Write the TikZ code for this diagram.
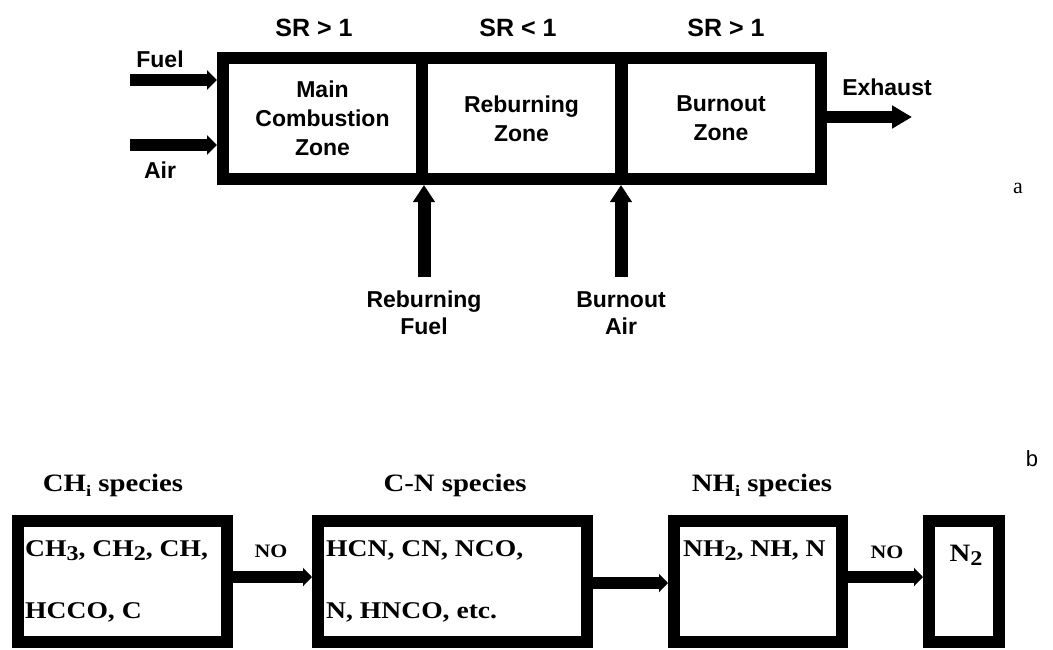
\documentclass[tikz,border=0pt]{standalone}
\usepackage{fontspec}
\setmainfont{Liberation Serif}
\newfontfamily\topfont{Liberation Sans}
\newfontfamily\botfont[FakeStretch=1.15]{Liberation Serif}
\usetikzlibrary{arrows.meta}
\newcommand\lsub[1]{\raisebox{-0.4ex}{\fontsize{21}{21}\selectfont #1}}
\newcommand\ssub[1]{\raisebox{-0.45ex}{\fontsize{16}{16}\selectfont #1}}
\begin{document}
\begin{tikzpicture}[x=1pt,y=-1pt,
  zone/.style={draw, line width=12pt, minimum width=199pt, minimum height=121pt, inner sep=0pt, align=center,
    font=\topfont\bfseries\fontsize{23}{29}\selectfont},
  toplbl/.style={inner sep=0pt, anchor=base, align=center, font=\topfont\bfseries\fontsize{23}{27}\selectfont},
  srlbl/.style={inner sep=0pt, anchor=base, font=\topfont\bfseries\fontsize{25}{27}\selectfont},
  specbox/.style={draw, line width=12pt, minimum height=121pt, inner sep=0pt},
  bottxt/.style={inner sep=0pt, anchor=base west, font=\botfont\bfseries\fontsize{24}{27}\selectfont},
  botlbl/.style={inner sep=0pt, anchor=base, font=\botfont\bfseries\fontsize{25}{27}\selectfont},
  nolbl/.style={inner sep=0pt, anchor=base, font=\botfont\bfseries\fontsize{19}{20}\selectfont},
  inarrow/.style={line width=12pt, -{Triangle[length=10pt,width=19pt]}},
  uparrow/.style={line width=13pt, -{Triangle[length=17pt,width=21pt]}},
  outarrow/.style={line width=12pt, -{Triangle[length=20pt,width=22pt]}},
  flowarrow/.style={line width=12pt, -{Triangle[length=9pt,width=18pt]}}
]
\useasboundingbox (0,0) rectangle (1053,649);

% ---- part a ----
\node[zone] (z1) at (322.5,118.5) {Main\\Combustion\\Zone};
\node[zone] (z2) at (521.5,118.5) {Reburning\\Zone};
\node[zone] (z3) at (721,118.5) {Burnout\\Zone};

\node[srlbl] (sr1) at (314,36) {SR > 1};
\node[srlbl] (sr2) at (518,36) {SR < 1};
\node[srlbl] (sr3) at (726,36) {SR > 1};

\node[toplbl] (fuel) at (160,67) {Fuel};
\node[toplbl] (air) at (160,178) {Air};
\node[toplbl] (exh) at (887,95) {Exhaust};

\coordinate (fs) at (130,80);
\coordinate (as) at (130,145);
\draw[inarrow] (fs) -- (fs -| z1.west);
\draw[inarrow] (as) -- (as -| z1.west);

\coordinate (ee) at (912,117);
\draw[outarrow] (ee -| z3.east) -- (ee);

\coordinate (rf) at (424,277);
\coordinate (ba) at (621,277);
\draw[uparrow] (rf) -- (rf |- z1.south);
\draw[uparrow] (ba) -- (ba |- z3.south);

\node[toplbl, anchor=center] (rfl) at (424,313) {Reburning\\Fuel};
\node[toplbl, anchor=center] (bal) at (621,313) {Burnout\\Air};

\node[inner sep=0pt, anchor=base, font=\fontsize{22}{24}\selectfont] (la) at (1018,193) {a};
\node[inner sep=0pt, anchor=base, font=\topfont\fontsize{22}{24}\selectfont] (lb) at (1032,466) {b};

% ---- part b ----
\node[specbox, minimum width=209pt] (b1) at (122.5,581.5) {};
\node[specbox, minimum width=269pt] (b2) at (452.5,581.5) {};
\node[specbox, minimum width=168pt] (b3) at (758,581.5) {};
\node[specbox, minimum width=70pt] (b4) at (964,581.5) {};

\node[botlbl] (t1) at (113,491) {CH\ssub{i} species};
\node[botlbl] (t2) at (455,491) {C-N species};
\node[botlbl] (t3) at (762,491) {NH\ssub{i} species};

\node[bottxt] (c1a) at (25,556) {CH\lsub{3}, CH\lsub{2}, CH,};
\node[bottxt] (c1b) at (25,618) {HCCO, C};
\node[bottxt] (c2a) at (326,556) {HCN, CN, NCO,};
\node[bottxt] (c2b) at (326,618) {N, HNCO, etc.};
\node[bottxt] (c3a) at (683,556) {NH\lsub{2}, NH, N};
\node[botlbl] (c4a) at (966,561) {N\lsub{2}};

\node[nolbl] (no1) at (271,557) {NO};
\node[nolbl] (no2) at (887,558) {NO};

\draw[flowarrow] ([yshift=4.5pt]b1.east) -- ([yshift=4.5pt]b2.west);
\draw[flowarrow] ([yshift=-1.5pt]b2.east) -- ([yshift=-1.5pt]b3.west);
\draw[flowarrow] ([yshift=4.5pt]b3.east) -- ([yshift=4.5pt]b4.west);
\end{tikzpicture}
\end{document}
